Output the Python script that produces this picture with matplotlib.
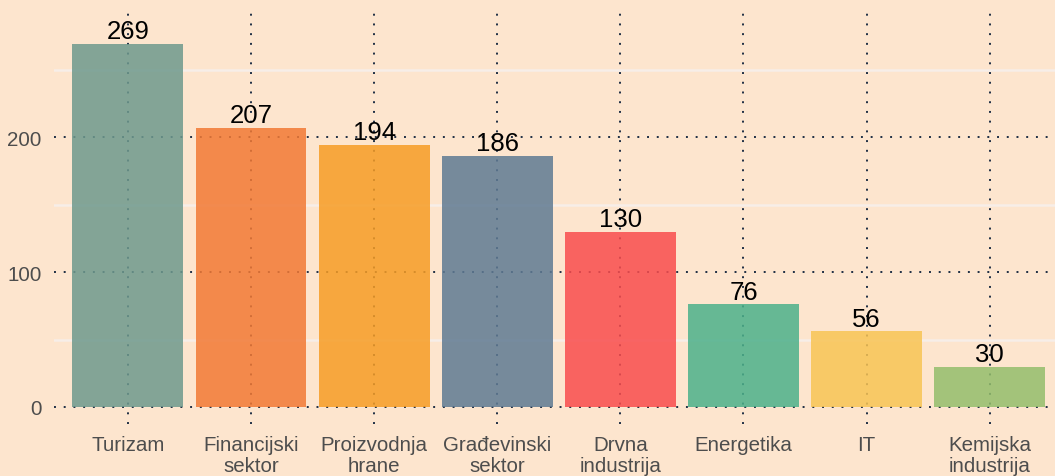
import matplotlib.pyplot as plt
from matplotlib.ticker import MultipleLocator

categories = ["Turizam", "Financijski\nsektor", "Proizvodnja\nhrane", "Građevinski\nsektor",
              "Drvna\nindustrija", "Energetika", "IT", "Kemijska\nindustrija"]
values = [269, 207, 194, 186, 130, 76, 56, 30]
colors = ["#6E998D", "#F27934", "#F69D25", "#5F7A93", "#F94C4D", "#4BB08A", "#F8C454", "#93BD6B"]

BG = "#FDE5CE"
GRID = "#1F2F45"

plt.rcParams["font.family"] = ["Liberation Sans", "DejaVu Sans"]

fig = plt.figure(figsize=(10.55, 4.77), dpi=100, facecolor=BG)
# axes spans pixel x 54..1055, y 14..425 (from top)
ax = fig.add_axes([54 / 1055, (477 - 425) / 477, (1055 - 54) / 1055, (425 - 14) / 477])
ax.set_facecolor(BG)

x = list(range(len(categories)))
ax.bar(x, values, width=0.9, color=colors, alpha=0.85, zorder=3)

for xi, v in zip(x, values):
    ax.text(xi, v + 0.5, str(v), ha="center", va="bottom", fontsize=18.5, color="black", zorder=4)

ax.set_xlim(-0.6, 7.53)
ax.set_ylim(-12.6, 291.9)

ax.set_yticks([0, 100, 200])
ax.yaxis.set_minor_locator(MultipleLocator(50))
ax.set_xticks(x)
ax.set_xticklabels(categories, linespacing=1.15)

ax.grid(which="major", axis="both", color=GRID, linestyle=(0, (1, 4)), linewidth=1.4, zorder=1)
for yv in [50, 150, 250]:
    ax.axhline(yv, color="#F7EEE8", linewidth=1.8, zorder=1)

ax.tick_params(axis="both", which="both", length=0)
ax.tick_params(axis="x", pad=8, labelsize=14.8, labelcolor="#4D4D4D")
ax.tick_params(axis="y", pad=9, labelsize=14.8, labelcolor="#4D4D4D")
for s in ax.spines.values():
    s.set_visible(False)

fig.savefig("out.png", dpi=100, facecolor=BG)
